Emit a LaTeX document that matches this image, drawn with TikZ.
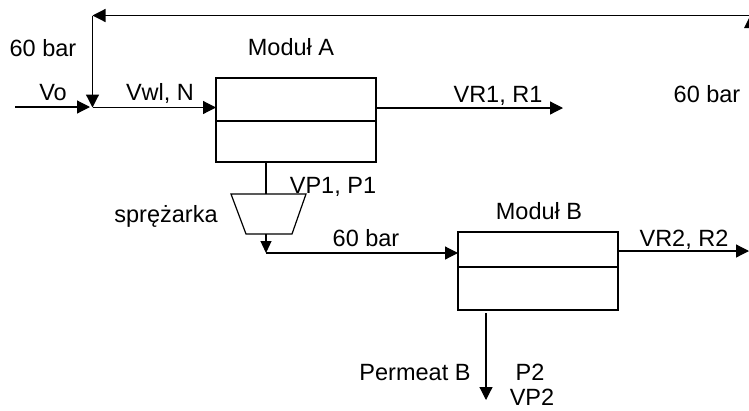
\documentclass[tikz,border=0pt]{standalone}
\usepackage{fontspec}
\setmainfont{Liberation Sans}
\usetikzlibrary{arrows.meta}
\tikzset{
 x=1pt,y=-1pt,
 flow/.style={draw=black,line width=1.2pt,-{Triangle[length=13pt,width=13pt]}},
 smallflow/.style={draw=black,line width=1.2pt,-{Triangle[length=12pt,width=11pt]}},
 pipe/.style={draw=black,line width=1.2pt},
 box/.style={draw=black,line width=1.2pt},
 lbl/.style={font=\fontsize{23.5}{27}\selectfont,inner sep=0pt,text=black,anchor=base,align=center},
}
\begin{document}
\begin{tikzpicture}
\useasboundingbox (0,0) rectangle (749,410);
\coordinate (topL) at (92.5,15.5);
\coordinate (topR) at (749,15.5);
\coordinate (voS) at (15,107);
\coordinate (voE) at (90,107);
\coordinate (mix) at (92.5,107.5);
\coordinate (aIn) at (216,107.5);
\coordinate (aOut) at (376,108);
\coordinate (r1End) at (563,108);
\coordinate (aBot) at (266,162);
\coordinate (compTop) at (266,194);
\coordinate (compBot) at (266,234);
\coordinate (elbow) at (266,253);
\coordinate (bIn) at (458,253);
\coordinate (bOut) at (618,251);
\coordinate (r2End) at (749,251);
\coordinate (pS) at (486,313);
\coordinate (pE) at (486,400);
\draw[box] (216,78) rectangle (376,162);
\draw[pipe] (216,121) -- (376,121);
\draw[box] (458,232) rectangle (618,310);
\draw[pipe] (458,267) -- (618,267);
\draw[box] (231,194) -- (306,194) -- (292,234) -- (246,234) -- cycle;
\draw[flow] (topR) -- (topL);
\draw[flow] (topL) -- (mix);
\draw[flow] (voS) -- (voE);
\draw[flow] (mix) -- (aIn);
\draw[flow] (aOut) -- (r1End);
\draw[pipe] (aBot) -- (compTop);
\draw[smallflow] (compBot) -- (elbow);
\draw[flow] (elbow) -- (bIn);
\draw[flow] (bOut) -- (r2End);
\draw[flow] (pS) -- (pE);
\fill[black] (749,18) -- (744,28) -- (749,28) -- cycle;
\node[lbl] (l1) at (43,56) {60 bar};
\node[lbl] (l2) at (291,55) {Moduł A};
\node[lbl] (l3) at (53,100) {Vo};
\node[lbl] (l4) at (160,100) {Vwl, N};
\node[lbl] (l5) at (498,102) {VR1, R1};
\node[lbl] (l6) at (707,102) {60 bar};
\node[lbl] (l7) at (333,193) {VP1, P1};
\node[lbl] (l8) at (166,222) {sprężarka};
\node[lbl] (l9) at (366,246) {60 bar};
\node[lbl] (l10) at (539,219) {Moduł B};
\node[lbl] (l11) at (684,246) {VR2, R2};
\node[lbl] (l12) at (415,380) {Permeat B};
\node[lbl] (l13) at (530,380) {P2};
\node[lbl] (l14) at (532,405.5) {VP2};
\end{tikzpicture}
\end{document}
